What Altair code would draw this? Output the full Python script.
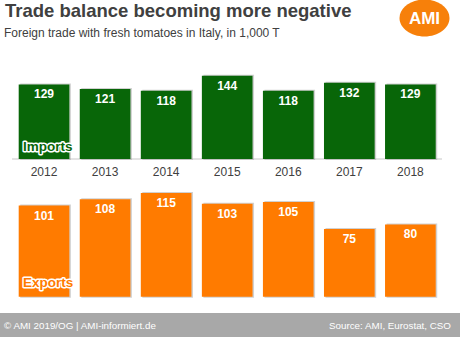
import altair as alt
import pandas as pd

years = ["2012", "2013", "2014", "2015", "2016", "2017", "2018"]
imports = [129, 121, 118, 144, 118, 132, 129]
exports = [101, 108, 115, 103, 105, 75, 80]

title = "Trade balance becoming more negative"
subtitle = "Foreign trade with fresh tomatoes in Italy, in 1,000 T"
footer_left = "© AMI 2019/OG | AMI-informiert.de"
footer_right = "Source: AMI, Eurostat, CSO"

df = pd.DataFrame({"year": years, "imports": imports, "exports": exports})

FONT = "Liberation Sans"
GREEN = "#086608"
ORANGE = "#ff7b00"
GREY_TXT = "#404040"

xscale = alt.Scale(domain=years, paddingInner=0.17, paddingOuter=0.352, align=0.435)
X = alt.X("year:N", scale=xscale, axis=None, sort=years)


def yimp():
    return alt.Scale(domain=[-308, 275], nice=False, zero=False)


def yexp():
    return alt.Scale(domain=[-44.6, 328.6], nice=False, zero=False)


def one(t):
    return alt.Chart(pd.DataFrame({"t": [t]}))


base = alt.Chart(df)

# ---------- imports panel ----------
imp_shadow = base.mark_bar(color="#9a9a9a", opacity=0.45, xOffset=1.5, x2Offset=1.5, yOffset=-1, y2Offset=1).encode(
    x=X, y=alt.Y("imports:Q", scale=yimp(), axis=None), y2=alt.Y2Datum(0))
imp_rule = base.mark_rule(color="#e3e3e3", strokeWidth=1.5).encode(
    y=alt.YDatum(0, scale=yimp(), axis=None), x=alt.value(12), x2=alt.value(442))
imp_bar = base.mark_bar(color=GREEN).encode(
    x=X, y=alt.Y("imports:Q", scale=yimp(), axis=None), y2=alt.Y2Datum(0))
imp_val = base.mark_text(font=FONT, fontSize=12, fontWeight="bold", color="white", baseline="middle", dy=10).encode(
    x=X, y=alt.Y("imports:Q", scale=yimp(), axis=None), text="imports:Q")
year_lbl = base.mark_text(font=FONT, fontSize=12, color=GREY_TXT, baseline="middle").encode(
    x=X, y=alt.YDatum(-22, scale=yimp(), axis=None), text="year:N")
imp_lbl_o = one("Imports").mark_text(font=FONT, fontSize=13.5, fontWeight="bold", align="left", baseline="middle",
                                     stroke="white", strokeWidth=3, fill="white", strokeJoin="round").encode(
    x=alt.value(23), y=alt.YDatum(20.8, scale=yimp(), axis=None), text="t:N")
imp_lbl = one("Imports").mark_text(font=FONT, fontSize=13.5, fontWeight="bold", align="left", baseline="middle",
                                   fill=GREEN).encode(x=alt.value(23), y=alt.YDatum(20.8, scale=yimp(), axis=None),
                                                      text="t:N")

# ---------- exports panel ----------
exp_shadow = base.mark_bar(color="#9a9a9a", opacity=0.45, xOffset=1.5, x2Offset=1.5, yOffset=-1, y2Offset=1).encode(
    x=X, y=alt.Y("exports:Q", scale=yexp(), axis=None), y2=alt.Y2Datum(0))
exp_bar = base.mark_bar(color=ORANGE).encode(
    x=X, y=alt.Y("exports:Q", scale=yexp(), axis=None), y2=alt.Y2Datum(0))
exp_val = base.mark_text(font=FONT, fontSize=12, fontWeight="bold", color="white", baseline="middle", dy=10).encode(
    x=X, y=alt.Y("exports:Q", scale=yexp(), axis=None), text="exports:Q")
exp_lbl_o = one("Exports").mark_text(font=FONT, fontSize=13.5, fontWeight="bold", align="left", baseline="middle",
                                     stroke="white", strokeWidth=3, fill="white", strokeJoin="round").encode(
    x=alt.value(23), y=alt.YDatum(15.2, scale=yexp(), axis=None), text="t:N")
exp_lbl = one("Exports").mark_text(font=FONT, fontSize=13.5, fontWeight="bold", align="left", baseline="middle",
                                   fill=ORANGE).encode(x=alt.value(23), y=alt.YDatum(15.2, scale=yexp(), axis=None),
                                                       text="t:N")

# ---------- decorations ----------
t_title = one(title).mark_text(font=FONT, fontSize=18.5, fontWeight="bold", color=GREY_TXT, align="left",
                               baseline="alphabetic").encode(x=alt.value(5), y=alt.value(17), text="t:N")
t_sub = one(subtitle).mark_text(font=FONT, fontSize=12, color=GREY_TXT, align="left",
                                baseline="alphabetic").encode(x=alt.value(4), y=alt.value(37), text="t:N")
footer = one("f").mark_rect(color="#a8a8a8").encode(
    x=alt.value(0), x2=alt.value(460), y=alt.value(313), y2=alt.value(337))
f_left = one(footer_left).mark_text(font=FONT, fontSize=9.8, color="white", align="left",
                                    baseline="alphabetic").encode(x=alt.value(4), y=alt.value(329), text="t:N")
f_right = one(footer_right).mark_text(font=FONT, fontSize=9.8, color="white", align="right",
                                      baseline="alphabetic").encode(x=alt.value(451), y=alt.value(329), text="t:N")
ellipse = "M-1,0 A1,0.74 0 1,0 1,0 A1,0.74 0 1,0 -1,0 Z"
logo = one("logo").mark_point(shape=ellipse, size=50 * 50, filled=True, color="#f7800a", opacity=1).encode(
    x=alt.value(424.5), y=alt.value(18))
logo_t = one("AMI").mark_text(font=FONT, fontSize=17, fontWeight="bold", color="white", baseline="middle").encode(
    x=alt.value(424.5), y=alt.value(19), text="t:N")

chart = alt.layer(
    imp_rule, imp_shadow, imp_bar, imp_val, year_lbl, imp_lbl_o, imp_lbl,
    exp_shadow, exp_bar, exp_val, exp_lbl_o, exp_lbl,
    t_title, t_sub, footer, f_left, f_right, logo, logo_t
).resolve_scale(y="independent").properties(
    width=460, height=337, padding=0, autosize=alt.AutoSizeParams(type="none"), background="white"
).configure_view(stroke=None)

chart.save("out.html", embed_options={"renderer": "svg", "actions": False})
